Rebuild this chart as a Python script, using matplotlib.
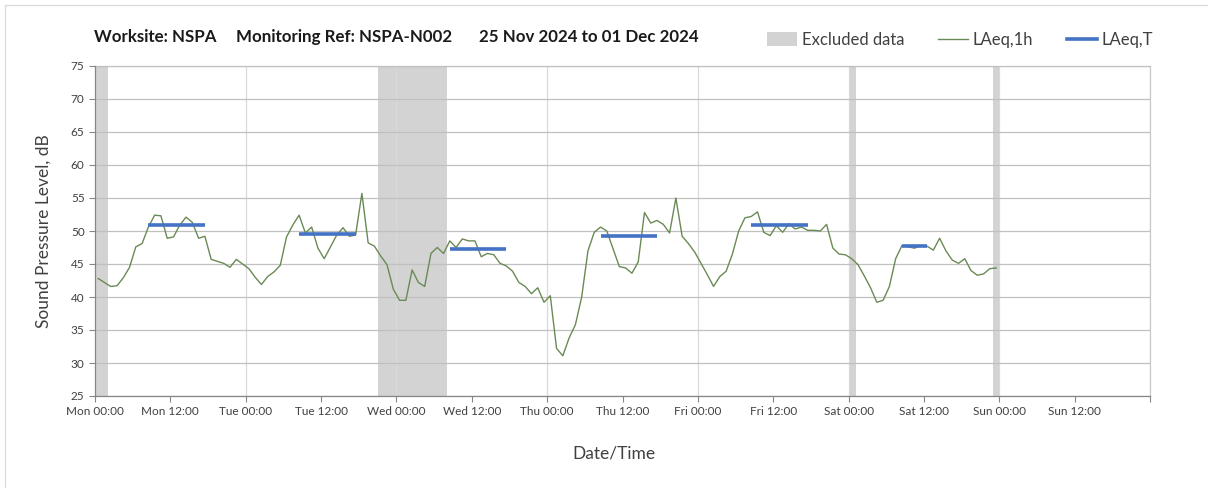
import numpy as np
import pandas as pd
import matplotlib
matplotlib.use("Agg")
import matplotlib.pyplot as plt
import matplotlib.dates as mdates
from matplotlib.patches import Patch
from matplotlib.lines import Line2D

plt.rcParams['font.family'] = ['Lato', 'DejaVu Sans']

# hourly LAeq,1h values, Mon 25 Nov 00:00 -> Sat 30 Nov 23:00 (plotted mid-hour)
laeq_1h = [
    42.8, 42.2, 41.6, 41.7, 42.9, 44.5, 47.6, 48.1, 50.6, 52.4, 52.3, 48.9,
    49.1, 50.9, 52.1, 51.3, 48.9, 49.2, 45.7, 45.4, 45.1, 44.5, 45.7, 45.0,
    44.3, 43.0, 41.9, 43.1, 43.8, 44.8, 49.1, 50.9, 52.4, 49.7, 50.6, 47.4,
    45.8, 47.6, 49.4, 50.5, 49.2, 49.4, 55.7, 48.2, 47.7, 46.2, 44.9, 41.2,
    39.5, 39.5, 44.1, 42.2, 41.6, 46.6, 47.5, 46.6, 48.5, 47.5, 48.8, 48.5,
    48.5, 46.1, 46.6, 46.4, 45.1, 44.7, 43.9, 42.2, 41.6, 40.5, 41.4, 39.2,
    40.2, 32.2, 31.1, 33.8, 35.8, 40.0, 47.0, 49.8, 50.6, 50.0, 47.3, 44.6,
    44.4, 43.6, 45.3, 52.8, 51.2, 51.6, 51.0, 49.7, 55.0, 49.2, 48.1, 46.8,
    45.1, 43.4, 41.6, 43.1, 43.9, 46.5, 50.0, 52.0, 52.2, 52.9, 49.8, 49.3,
    50.8, 49.8, 51.1, 50.3, 50.6, 50.1, 50.1, 50.0, 51.0, 47.4, 46.5, 46.4,
    45.8, 44.9, 43.2, 41.4, 39.2, 39.5, 41.6, 45.8, 47.8, 47.6, 47.4, 47.8,
    47.7, 47.1, 48.9, 47.0, 45.6, 45.1, 45.8, 44.0, 43.3, 43.5, 44.3, 44.4,
]

# daytime LAeq,T periods
laeq_t_start = ["2024-11-25 08:30", "2024-11-26 08:30", "2024-11-27 08:30",
                "2024-11-28 08:30", "2024-11-29 08:30", "2024-11-30 08:30"]
laeq_t_end = ["2024-11-25 17:30", "2024-11-26 17:30", "2024-11-27 17:30",
              "2024-11-28 17:30", "2024-11-29 17:30", "2024-11-30 12:30"]
laeq_t = [50.9, 49.5, 47.3, 49.2, 50.9, 47.8]

# excluded periods
excl_start = ["2024-11-25 00:00", "2024-11-26 21:00", "2024-11-30 00:00", "2024-11-30 23:00"]
excl_end = ["2024-11-25 02:00", "2024-11-27 08:00", "2024-11-30 01:10", "2024-12-01 00:00"]

title_parts = ['Worksite: NSPA', 'Monitoring Ref: NSPA-N002', '25 Nov 2024 to 01 Dec 2024']

times = pd.date_range("2024-11-25 00:30", periods=len(laeq_1h), freq="h")

green = '#6a8a55'
blue = '#4472C4'
band = '#d3d3d3'
txt = '#404040'

fig = plt.figure(figsize=(12.08, 4.88), dpi=100)
ax = fig.add_axes([95/1208, 1-396/488, (1150-95)/1208, (396-66)/488])

for s, e in zip(excl_start, excl_end):
    ax.axvspan(pd.Timestamp(s), pd.Timestamp(e), color=band, lw=0, zorder=0.2)

ax.plot(times, laeq_1h, color=green, lw=1.0, zorder=3)
for s, e, v in zip(laeq_t_start, laeq_t_end, laeq_t):
    ax.plot([pd.Timestamp(s), pd.Timestamp(e)], [v, v], color=blue, lw=2.6,
            solid_capstyle='butt', zorder=4)

ax.set_xlim(pd.Timestamp("2024-11-25"), pd.Timestamp("2024-12-02"))
ax.set_ylim(25, 75)
ax.set_yticks(np.arange(25, 76, 5))

def fmt_time(x, pos):
    d = mdates.num2date(x)
    # no label on the closing tick
    if d.strftime('%Y-%m-%d %H') == '2024-12-02 00':
        return ''
    return d.strftime('%a %H:%M')

ax.xaxis.set_major_locator(mdates.HourLocator(byhour=[0, 12]))
ax.xaxis.set_major_formatter(plt.FuncFormatter(fmt_time))
ax.xaxis.set_minor_locator(mdates.HourLocator(byhour=[0]))
ax.xaxis.remove_overlapping_locs = False
ax.tick_params(axis='x', which='minor', length=0)
ax.tick_params(axis='both', which='major', labelsize=8.5, labelcolor=txt,
               color='#868686', length=4, width=0.8)

ax.set_axisbelow(True)
ax.grid(axis='y', which='major', color='#c0c0c0', lw=0.9)
ax.grid(axis='x', which='minor', color='#d9d9d9', lw=0.9)
ax.grid(axis='x', which='major', visible=False)

for sp in ['top', 'right']:
    ax.spines[sp].set_visible(False)
for sp in ['left', 'bottom']:
    ax.spines[sp].set_color('#868686')
    ax.spines[sp].set_linewidth(0.9)
ax.axhline(75, color='#c0c0c0', lw=0.9, zorder=0.5, clip_on=False)
ax.axvline(pd.Timestamp("2024-12-02"), color='#c8c8c8', lw=0.9, zorder=0.5, clip_on=False)

ax.set_ylabel('Sound Pressure Level, dB', fontsize=12.5, color=txt, labelpad=14)
ax.set_xlabel('Date/Time', fontsize=12.5, color=txt)
ax.xaxis.set_label_coords(0.492, -0.15)

# title pieces placed as in the original header
for xp, part in zip([94, 236, 479], title_parts):
    fig.text(xp/1208, 1-37/488, part, fontsize=12.2, fontweight='bold',
             color='#1a1a1a', va='center')

handles = [Patch(facecolor=band, edgecolor='none'),
           Line2D([], [], color=green, lw=1.0),
           Line2D([], [], color=blue, lw=2.6)]
fig.legend(handles, ['Excluded data', 'LAeq,1h', 'LAeq,T'], ncol=3, frameon=False,
           loc='center right', bbox_to_anchor=(1168/1208, 1-40/488),
           fontsize=12, labelcolor=txt, handlelength=1.8, handleheight=0.9,
           handletextpad=0.3, columnspacing=2.0)

fig.add_artist(Line2D([5/1208, 1], [1-5/488, 1-5/488], color='#d9d9d9', lw=0.9))
fig.add_artist(Line2D([5/1208, 5/1208], [0, 1-5/488], color='#d9d9d9', lw=0.9))

fig.savefig('out.png', dpi=100)
